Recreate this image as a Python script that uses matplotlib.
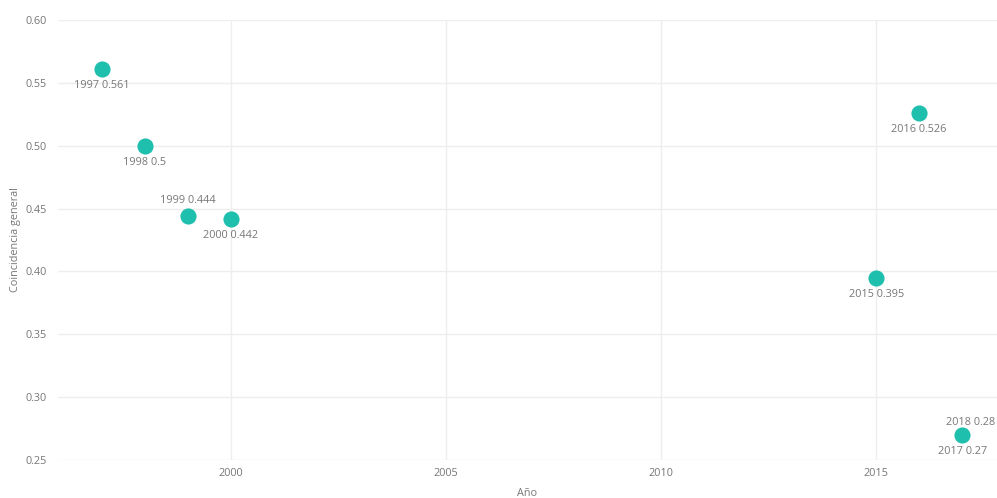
import matplotlib.pyplot as plt

# data
years = [1997, 1998, 1999, 2000, 2015, 2016, 2017, 2018]
coincidencia = [0.561, 0.5, 0.444, 0.442, 0.395, 0.526, 0.27, 0.28]
label_pos = ["below", "below", "above", "below", "below", "below", "below", "right"]

xticks = [2000, 2005, 2010, 2015]
yticks = [0.25, 0.30, 0.35, 0.40, 0.45, 0.50, 0.55, 0.60]

teal = "#1fbfae"
grey = "#777777"
plt.rcParams["font.family"] = ["Open Sans", "DejaVu Sans"]

fig = plt.figure(figsize=(9.97, 4.98), dpi=100)
ax = fig.add_axes([58 / 997, 38 / 498, 939 / 997, 440 / 498])

ax.scatter(years, coincidencia, s=135, color=teal, zorder=3, linewidths=0)

xmin, xmax = 1995.98, 2017.81
ax.set_xlim(xmin, xmax)
ax.set_ylim(0.25, 0.60)

for yr, v, pos in zip(years, coincidencia, label_pos):
    txt = f"{yr} {v:g}"
    if pos == "below":
        ax.annotate(txt, (yr, v), xytext=(0, -12), textcoords="offset points",
                    ha="center", va="center", fontsize=7.8, color=grey)
    elif pos == "above":
        ax.annotate(txt, (yr, v), xytext=(0, 11), textcoords="offset points",
                    ha="center", va="center", fontsize=7.8, color=grey)
    else:
        # point falls outside the visible range, label pushed inside
        ax.annotate(txt, (min(yr, xmax), v), xytext=(-1, 0), textcoords="offset points",
                    ha="right", va="center", fontsize=7.8, color=grey,
                    annotation_clip=False)

ax.set_xticks(xticks)
ax.set_yticks(yticks)
ax.set_yticklabels([f"{t:.2f}" for t in yticks])
ax.grid(True, color="#eeeeee", linewidth=1)
ax.set_axisbelow(True)
for s in ax.spines.values():
    s.set_visible(False)
ax.tick_params(length=0, colors=grey, labelsize=7.8)
ax.tick_params(axis="y", pad=8)
ax.tick_params(axis="x", pad=6)

ax.set_xlabel("Año", fontsize=7.8, color=grey, labelpad=6)
ax.set_ylabel("Coincidencia general", fontsize=7.8, color=grey, labelpad=3)

plt.savefig("out.png", dpi=100)
